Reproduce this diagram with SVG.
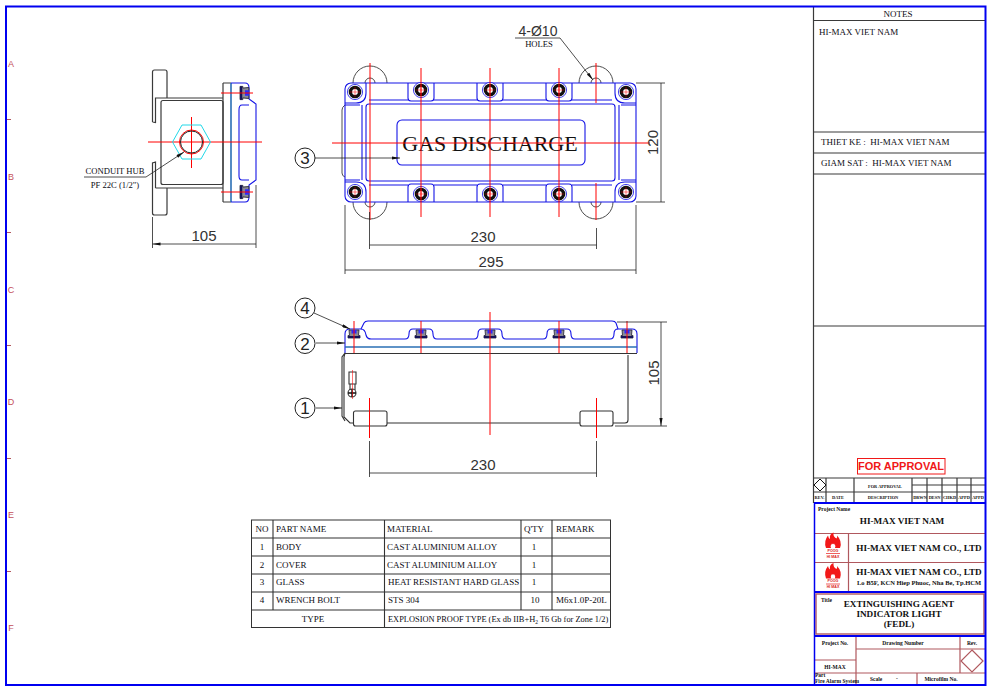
<svg xmlns="http://www.w3.org/2000/svg" width="991" height="691" viewBox="0 0 991 691">
<style>
.b{fill:none;stroke:#1414e6;stroke-width:1.100}
.k{fill:none;stroke:#333;stroke-width:1.100}
.d{fill:none;stroke:#222;stroke-width:.8}
.r{fill:none;stroke:#f00;stroke-width:1}
.s{fill:none;stroke:#2a6fb5;stroke-width:1.300}
.g{fill:none;stroke:#3a3a3a;stroke-width:1.200}
.m{fill:none;stroke:#b0585e;stroke-width:1.200}
.u{fill:none;stroke:#0000f0;stroke-width:2}
.dim{font:15px "Liberation Sans",Arial,sans-serif;fill:#333;text-anchor:middle}
.t{font:9px "Liberation Serif","Times New Roman",serif;fill:#0c0c14}
.tb{font:bold 4.400px "Liberation Serif","Times New Roman",serif;fill:#111;text-anchor:middle}
.tc{font:bold 9.200px "Liberation Serif","Times New Roman",serif;fill:#111;text-anchor:middle}
.z{font:9px "Liberation Sans",Arial,sans-serif;fill:#c4505a;text-anchor:middle}
.num{font:17px "Liberation Sans",Arial,sans-serif;fill:#222;text-anchor:middle}
.lg{font:bold 3.600px "Liberation Sans",Arial,sans-serif;fill:#d82020;text-anchor:middle}
</style>
<defs>
<marker id="a" viewBox="0 0 10 4" refX="10" refY="2" markerWidth="9" markerHeight="3.200" markerUnits="userSpaceOnUse" orient="auto-start-reverse"><path d="M0 0L10 2L0 4z" fill="#111"/></marker>
<g id="bolt"><circle r="7.600" fill="#fff" stroke="#1414e6" stroke-width=".8"/><circle r="4.600" fill="#fff" stroke="#111" stroke-width="3.400"/><path d="M-5 0H5M0-5V5" stroke="#f00" stroke-width=".5"/></g>
<g id="sect"><path d="M-6 4.500V2H-4.500L-5-3.500H5L4.500 2H6V4.500z" fill="#8a8a96" stroke="#223" stroke-width=".8"/><path d="M-2.500-3.500H2.500V0H-2.500z" fill="#2a2aff"/><path d="M-6 2.500H6V4.500H-6z" fill="#14145a"/></g>
<g id="logo"><path d="M-7 15Q-9.500 8-5 2.500Q-4.500 5.500-3 6Q-4 1 0.500 -0.500Q0 4 3.500 5.500Q4.500 4.500 4 2.500Q9.500 8 7 15z" fill="#f21818"/><path d="M-2 15Q-3 12.500-1 10.500Q0 12 1 10.500Q3 12.500 2 15z" fill="#fff"/><path d="M-7 20.500H7" stroke="#e33" stroke-width=".8"/><text class="lg" y="18.500">POOG</text><text class="lg" y="24.500">HI MAX</text></g>
</defs>
<rect width="991" height="691" fill="#fff"/>
<g id="margin">
<g class="z"><text x="11" y="67">A</text><text x="11" y="180">B</text><text x="11" y="293">C</text><text x="11" y="405">D</text><text x="11" y="518">E</text><text x="11" y="631">F</text></g>
<path d="M6 119.500H11M6 232.500H11M6 345.500H11M6 458.500H11M6 571.500H11" class="m"/>
</g>
<g id="side-view">
<path d="M152.500 122V72Q152.500 70 154.500 70H165Q167 70 167 72V98M167 188V213Q167 215 165 215H154.500Q152.500 215 152.500 213V163L155.500 162V188M152.500 122L155.500 122.500V98H223M155.500 188H223" class="g"/>
<rect x="161" y="100.500" width="62" height="84" rx="2" class="g"/>
<path d="M223 83V202M223 83H231M223 202H231" class="g"/>
<path d="M231 83V202" class="s" style="stroke-width:1.600"/>
<path d="M231 83H245Q249 83 249 88V99L256 104V180L249 185V197Q249 202 245 202H231M249 105H242Q239 105 239 110V176Q239 180 242 180H249" class="b"/>
<use href="#sect" transform="translate(245 93) rotate(90) scale(1.100)"/><use href="#sect" transform="translate(245 192) rotate(90) scale(1.100)"/>
<path d="M221 93H253M221 192H253M148 142H262M191.500 117V168" class="r"/>
<path d="M172.500 142L182 125H201L210.500 142L201 159H182z" fill="none" stroke="#22d8e8" stroke-width="1"/>
<circle cx="191.500" cy="142" r="12" fill="none" stroke="#f00"/><circle cx="191.500" cy="142" r="11" fill="none" stroke="#222"/>
<path d="M84 177H146L184 152" class="d" marker-end="url(#a)"/>
<text class="t" x="115" y="174" text-anchor="middle" style="font-size:8.600px">CONDUIT HUB</text><text class="t" x="115" y="188" text-anchor="middle" style="font-size:8.600px">PF 22C (1/2")</text>
</g>
<g id="top-view">
<path d="M353 83A17 17 0 0 1 387 83M579 83A17 17 0 0 1 613 83M353 202A17 17 0 0 0 387 202M579 202A17 17 0 0 0 613 202" class="g" style="stroke-width:.9"/>
<path d="M365 83A5 5 0 0 1 375 83M591 83A5 5 0 0 1 601 83M365 202A5 5 0 0 0 375 202M591 202A5 5 0 0 0 601 202" class="g" style="stroke-width:.9"/>
<path d="M345 105Q342 107 342 110V173Q342 176 345 177" class="g" style="stroke-width:.9"/>
<rect x="345" y="83" width="291" height="119" rx="6" class="b"/>
<path d="M345 103H356Q366 103 366 93V83M345 182H356Q366 182 366 192V202M636 103H625Q615 103 615 93V83M636 182H625Q615 182 615 192V202M345 105H360M621 105H636M345 180H360M621 180H636" class="b"/>
<path d="M369 100H408M434 100H477M503 100H546M572 100H612M369 185H408M434 185H477M503 185H546M572 185H612" class="b"/>
<path d="M408 83V98Q408 101 411 101H431Q434 101 434 98V83M477 83V98Q477 101 480 101H500Q503 101 503 98V83M546 83V98Q546 101 549 101H569Q572 101 572 98V83M408 202V187Q408 184 411 184H431Q434 184 434 187V202M477 202V187Q477 184 480 184H500Q503 184 503 187V202M546 202V187Q546 184 549 184H569Q572 184 572 187V202" class="b"/>
<rect x="366" y="104" width="249" height="77" rx="3" class="b"/>
<path d="M362 105V180M619 105V180" class="b"/>
<rect x="397" y="120" width="188" height="45" rx="5" class="b"/>
<use href="#bolt" x="355" y="92"/><use href="#bolt" x="421" y="90"/><use href="#bolt" x="490" y="90"/><use href="#bolt" x="559" y="90"/><use href="#bolt" x="626" y="92"/>
<use href="#bolt" x="355" y="192"/><use href="#bolt" x="421" y="194"/><use href="#bolt" x="490" y="194"/><use href="#bolt" x="559" y="194"/><use href="#bolt" x="626" y="192"/>
<text x="490" y="151" font-family="Liberation Serif,Times New Roman,serif" font-size="22" fill="#111" text-anchor="middle">GAS DISCHARGE</text>
<path d="M332 143H650M421 68V217M490 68V217M559 68V217M370 63V220M596 63V103M596 183V220" class="r"/>
</g>
<g id="front-view">
<path d="M345 353V334Q345 329 350 329H361L364 323Q365 321 368 321H612Q615 321 616 323L618 329H632Q637 329 637 334V353" class="b"/>
<path d="M361 329Q365 329 366 335Q367 339 371 339H405Q409 339 409 334Q409 329 413 329H429Q433 329 433 334Q433 339 437 339H474Q478 339 478 334Q478 329 482 329H498Q502 329 502 334Q502 339 506 339H543Q547 339 547 334Q547 329 551 329H567Q571 329 571 334Q571 339 575 339H610Q614 339 614 334Q614 329 618 329" class="b"/>
<path d="M345 347H637" class="s"/>
<path d="M345 353.500H637" class="k"/>
<use href="#sect" x="354" y="333.500"/><use href="#sect" x="421" y="333.500"/><use href="#sect" x="490" y="333.500"/><use href="#sect" x="559" y="333.500"/><use href="#sect" x="627" y="333.500"/>
<path d="M345 353L342 357V416L345 421M345 353L344 357V417L350 423H353M387 423H580M613 423H625Q628 423 628 420V355" class="k"/>
<rect x="353.500" y="411" width="33.500" height="15" rx="2" class="k"/><rect x="580" y="411" width="33" height="15" rx="2" class="k"/>
<path d="M349 372H356V384H349zM350 384V390M355 384V390" class="k"/><circle cx="352" cy="393" r="4" class="k"/><path d="M348 393H356M352 389V397" stroke="#111" stroke-width="1.400"/>
<path d="M352.500 370V399" class="r" stroke-opacity=".55"/>
<path d="M354 321V353M421 321V353M490 312V435M559 321V353M627 321V353" class="r"/><path d="M369.500 398V438M596.500 398V438" class="r"/>
</g>
<g id="connectors">
<path d="M152.500 217V248M256 185V248M369.500 212V249M596.500 228V249M345 205V274M636 205V274M369.500 441V477M596.500 441V477M636 83H665M636 202H665M617 322H667M615 426H667" class="d"/>
<path d="M152.500 244H256M369.500 245H596.500M345 270H636M369.500 473H596.500M661 83V202M661 322V426" class="d" marker-start="url(#a)" marker-end="url(#a)"/>
<path d="M515 38H560L593 80" class="d" marker-end="url(#a)"/>
<path d="M315 158H400" class="d" marker-end="url(#a)"/>
<path d="M314 313L350 329" class="d" marker-end="url(#a)"/>
<path d="M316 343H345" class="d" marker-end="url(#a)"/>
<path d="M316 408H342" class="d" marker-end="url(#a)"/>
</g>
<g id="dimension-labels">
<text class="dim" x="204" y="241">105</text><text class="dim" x="483" y="242">230</text><text class="dim" x="491" y="267">295</text><text class="dim" x="483" y="470">230</text>
<text class="dim" transform="translate(658 142.500) rotate(-90)">120</text><text class="dim" transform="translate(659 373) rotate(-90)">105</text>
<text class="dim" x="538" y="36" style="font-size:14px">4-Ø10</text><text class="t" x="539" y="47" text-anchor="middle" style="font-size:8.600px">HOLES</text>
</g>
<g id="balloons">
<g fill="#fff" stroke="#222" stroke-width="1"><circle cx="305" cy="158" r="10"/><circle cx="305" cy="308" r="10"/><circle cx="305" cy="343.500" r="10"/><circle cx="305" cy="408" r="10"/></g>
<text class="num" x="305" y="164">3</text><text class="num" x="305" y="314">4</text><text class="num" x="305" y="349.500">2</text><text class="num" x="305" y="414">1</text>
</g>
<g id="parts-table">
<rect x="251.500" y="520" width="359" height="107.500" fill="none" stroke="#333"/>
<path d="M251.500 538H610.500M251.500 556H610.500M251.500 574H610.500M251.500 592H610.500M251.500 610H610.500M273 520V610M384.500 520V627.500M521 520V610M552 520V610" class="k"/>
<g class="t"><text x="262" y="532" text-anchor="middle">NO</text><text x="276" y="532">PART NAME</text><text x="387" y="532">MATERIAL</text><text x="534" y="532" text-anchor="middle">Q'TY</text><text x="556" y="532">REMARK</text>
<text x="262" y="550" text-anchor="middle">1</text><text x="276" y="550">BODY</text><text x="387" y="550">CAST ALUMINIUM ALLOY</text><text x="534" y="550" text-anchor="middle">1</text>
<text x="262" y="568" text-anchor="middle">2</text><text x="276" y="568">COVER</text><text x="387" y="568">CAST ALUMINIUM ALLOY</text><text x="534" y="568" text-anchor="middle">1</text>
<text x="262" y="585" text-anchor="middle">3</text><text x="276" y="585">GLASS</text><text x="388" y="585">HEAT RESISTANT HARD GLASS</text><text x="534" y="585" text-anchor="middle">1</text>
<text x="262" y="603" text-anchor="middle">4</text><text x="276" y="603">WRENCH BOLT</text><text x="388" y="603">STS 304</text><text x="535" y="603" text-anchor="middle">10</text><text x="556" y="603">M6x1.0P-20L</text>
<text x="313" y="622" text-anchor="middle">TYPE</text><text x="388" y="622" style="font-size:8.400px">EXPLOSION PROOF TYPE (Ex db IIB+H<tspan font-size="5.500" dy="2">2</tspan><tspan dy="-2"> T6 Gb for Zone 1/2)</tspan></text></g>
</g>
<g id="title-block">
<path d="M813.500 7V503M814 20.500H985M814 132H985M814 153H985M814 174H985M814 326H985M814 478H985M814 492H985M826 478V503M854 478V503M912 478V503M927 478V503M942 478V503M957 478V503M971 478V503M912 485H985" class="g"/>
<path d="M820 479L826 485L820 491L814 485z" fill="#fff" stroke="#111"/>
<g class="t"><text x="898" y="17" text-anchor="middle">NOTES</text><text x="819" y="35">HI-MAX VIET NAM</text><text x="821" y="145" xml:space="preserve">THIET KE :  HI-MAX VIET NAM</text><text x="821" y="166" xml:space="preserve">GIAM SAT :  HI-MAX VIET NAM</text></g>
<rect x="857.500" y="458.500" width="87.500" height="15.500" fill="#fff" stroke="#f01818"/>
<text x="901" y="470" font-family="Liberation Sans,Arial,sans-serif" font-size="11" font-weight="bold" fill="#f01818" text-anchor="middle">FOR APPROVAL</text>
<g class="tb"><text x="885" y="488">FOR APPROVAL</text><text x="819.500" y="499">REV.</text><text x="838" y="499">DATE</text><text x="883" y="499">DESCRIPTION</text><text x="920" y="499">DRWN</text><text x="934.500" y="499">DESN</text><text x="949.500" y="499">CHKD</text><text x="964" y="499">APPD</text><text x="978" y="499">APPD</text></g>
<path d="M815 533.500H985M815 562.500H985M848.500 533.500V592M856 636V685M960 636V673M917 673V685M856 649H985M815 660H856M815 673H985" class="m"/>
<rect x="816" y="594" width="168" height="40" class="m" style="stroke-width:1.400"/>
<path d="M972 650L983 661L972 672L961 661z" class="m"/>
<use href="#logo" x="833" y="533"/><use href="#logo" x="833" y="563.500"/>
<g class="tb" style="font-size:5.500px"><text x="818" y="511" text-anchor="start">Project Name</text><text x="821" y="602" text-anchor="start">Title</text><text x="835" y="645">Project No.</text><text x="903" y="645">Drawing Number</text><text x="972" y="645">Rev.</text><text x="835" y="669">HI-MAX</text><text x="815" y="676.500" text-anchor="start">Part</text><text x="815" y="683" text-anchor="start">Fire Alarm System</text><text x="876" y="681">Scale</text><text x="897" y="680">-</text><text x="941" y="681">Microfilm No.</text></g>
<g class="tc"><text x="902" y="524">HI-MAX VIET NAM</text><text x="919" y="551">HI-MAX VIET NAM CO., LTD</text><text x="919" y="575">HI-MAX VIET NAM CO., LTD</text><text x="919" y="585" style="font-size:6.500px">Lo B5F, KCN Hiep Phuoc, Nha Be, Tp.HCM</text><text x="899" y="607">EXTINGUISHING AGENT</text><text x="899" y="617">INDICATOR LIGHT</text><text x="899" y="627">(FEDL)</text></g>
<path d="M814 503H985M814 592H985M815 636H985" class="u"/>
<path d="M814.500 503V685" class="u" style="stroke-width:1.500"/>
</g>
<rect id="frame" x="6" y="6.500" width="979.500" height="678.500" fill="none" stroke="#0000f0" stroke-width="2"/>
</svg>
